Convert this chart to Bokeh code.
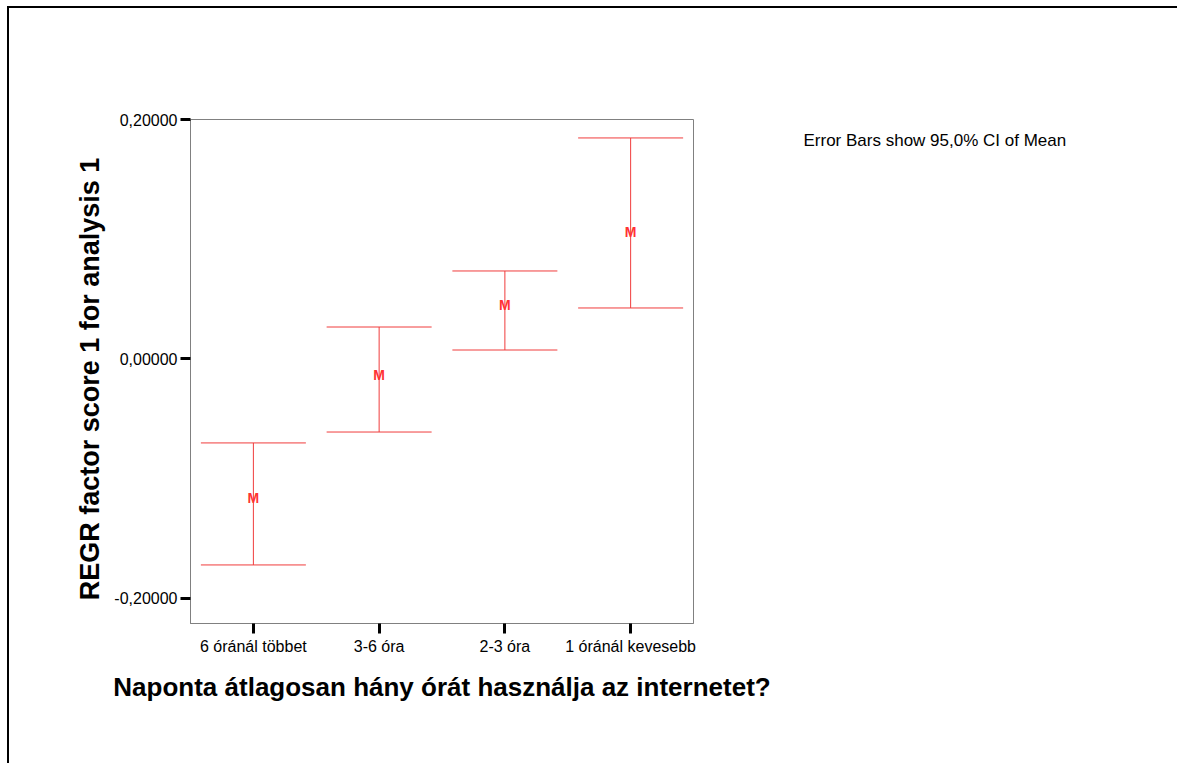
from bokeh.plotting import figure
from bokeh.layouts import row
from bokeh.models import (ColumnDataSource, FactorRange, Range1d, FixedTicker,
                          Whisker, TeeHead, Label)
from bokeh.core.properties import value
from bokeh.embed import file_html
from bokeh.resources import INLINE

categories = ["6 óránál többet", "3-6 óra", "2-3 óra", "1 óránál kevesebb"]
means = [-0.116, -0.0134, 0.0451, 0.106]
lower = [-0.172, -0.061, 0.0075, 0.0426]
upper = [-0.0701, 0.0267, 0.0735, 0.1846]
y_ticks = [-0.2, 0.0, 0.2]
y_tick_labels = ["-0,20000", "0,00000", "0,20000"]
note_text = "Error Bars show 95,0% CI of Mean"

RED = "#f03c3c"
FONT = "Liberation Sans"

src = ColumnDataSource(dict(cat=categories, mean=means, lower=lower, upper=upper,
                            m=["M"] * len(categories)))

p = figure(x_range=FactorRange(factors=categories, range_padding=0),
           y_range=Range1d(-0.2209, 0.2),
           width=781, height=755,
           min_border_left=181, min_border_top=111,
           min_border_right=97, min_border_bottom=140,
           output_backend="svg", toolbar_location=None, title=None,
           background_fill_color="white", border_fill_color="white")

p.xgrid.visible = False
p.ygrid.visible = False
p.outline_line_color = "#808080"
p.outline_line_width = 1

for ax in (p.xaxis[0], p.yaxis[0]):
    ax.axis_line_color = "#808080"
    ax.major_tick_line_color = "black"
    ax.major_tick_line_width = 3
    ax.major_tick_in = 0
    ax.major_tick_out = 10
    ax.minor_tick_line_color = None
    ax.major_label_text_font = FONT
    ax.major_label_text_font_size = "16px"
    ax.major_label_text_color = "black"
    ax.axis_label_text_font = FONT
    ax.axis_label_text_font_size = "27px"
    ax.axis_label_text_font_style = "bold"
    ax.axis_label_text_color = "black"

p.yaxis[0].ticker = FixedTicker(ticks=y_ticks)
p.yaxis[0].major_label_overrides = {t: l for t, l in zip(y_ticks, y_tick_labels)}
p.yaxis[0].major_label_standoff = 3
p.yaxis[0].axis_label = "REGR factor score   1 for analysis 1"
p.yaxis[0].axis_label_standoff = 6

p.xaxis[0].major_label_standoff = 4
p.xaxis[0].axis_label = "Naponta átlagosan hány órát használja az internetet?"
p.xaxis[0].axis_label_standoff = 14
p.xaxis[0].axis_label_text_font_size = "26px"

w = Whisker(base="cat", upper="upper", lower="lower", source=src, dimension="height",
            line_color=RED, line_width=1,
            upper_head=TeeHead(size=105, line_color=RED, line_width=1),
            lower_head=TeeHead(size=105, line_color=RED, line_width=1))
p.add_layout(w)

p.text(x="cat", y="mean", text="m", source=src, text_color="#ff3333",
       text_font=value(FONT), text_font_style="bold", text_font_size="14px",
       text_align="center", text_baseline="middle")

# right-hand panel carrying the note text (its ranges are in pixels, y from top)
PW, PH = 387, 755
p2 = figure(width=PW, height=PH, x_range=Range1d(0, PW), y_range=Range1d(PH, 0),
            x_axis_location=None, y_axis_location=None,
            min_border_left=0, min_border_right=0, min_border_top=0, min_border_bottom=0,
            output_backend="svg", toolbar_location=None, title=None,
            background_fill_color="white", border_fill_color="white")
p2.grid.visible = False
p2.outline_line_color = None
note = Label(x=13, y=32, text=note_text,
             text_font=FONT, text_font_size="17px", text_color="black",
             text_align="left", text_baseline="middle")
p2.add_layout(note)

layout = row(p, p2, spacing=0,
             styles={"border-left": "2px solid black", "border-top": "2px solid black",
                     "margin-left": "7px", "margin-top": "6px"})

open("out.html", "w").write(file_html(layout, INLINE))
